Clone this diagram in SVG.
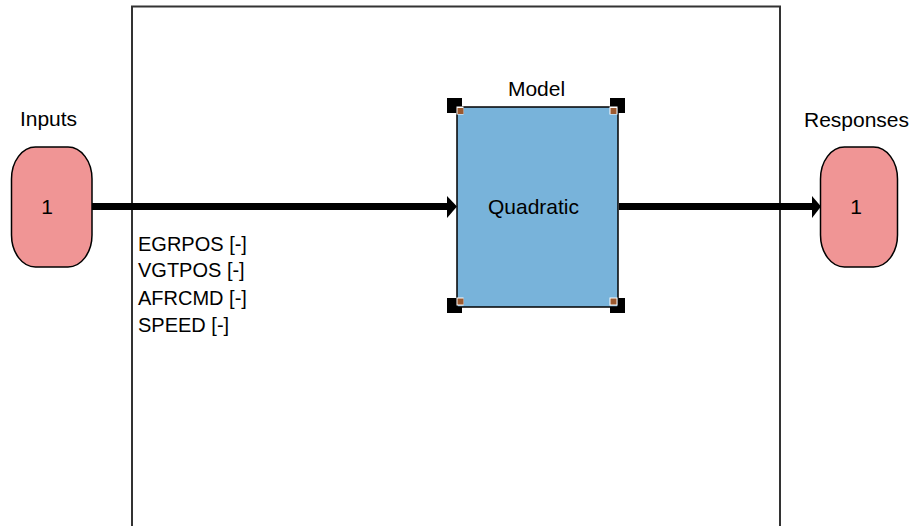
<svg xmlns="http://www.w3.org/2000/svg" width="915" height="526" viewBox="0 0 915 526">
<style>
text{font-family:"Liberation Sans",Arial,sans-serif;font-size:21px;fill:#000}
.sig{font-size:20px}
.port{fill:#F09595;stroke:#000;stroke-width:1.5}
.wire{stroke:#000;stroke-width:7;fill:none}
.ah{fill:#000}
.h{fill:#000}
.hw{fill:#fff}
.hi{fill:#9C5A30}
</style>
<rect width="915" height="526" fill="#fff"/>
<path d="M132,530 V6.5 H780 V530" fill="none" stroke="#333" stroke-width="2"/>
<g id="connectors">
<path class="wire" d="M92,206.5 H448"/>
<path class="ah" d="M447,196 L457,206.5 L447,218 z"/>
<path class="wire" d="M619,206.5 H813"/>
<path class="ah" d="M812,196 L821,206.5 L812,218 z"/>
</g>
<g id="inputs">
<rect class="port" x="11.5" y="147" width="80.5" height="120" rx="24" ry="32"/>
<text x="47" y="214" text-anchor="middle">1</text>
<text x="48.5" y="126" text-anchor="middle">Inputs</text>
</g>
<g id="model">
<rect x="447" y="98" width="15" height="15" class="h"/>
<rect x="610" y="98" width="15" height="15" class="h"/>
<rect x="447" y="298" width="15" height="15" class="h"/>
<rect x="610" y="298" width="15" height="15" class="h"/>
<rect x="457" y="107" width="161" height="200" fill="#78B3DA" stroke="#000" stroke-width="1.5"/>
<rect class="hw" x="456.5" y="106.5" width="7" height="8"/>
<rect class="hw" x="609.5" y="106.5" width="8" height="8"/>
<rect class="hw" x="456.5" y="297.5" width="7" height="8"/>
<rect class="hw" x="609.5" y="297.5" width="8" height="8"/>
<rect class="hi" x="457.5" y="108" width="6" height="6"/>
<rect class="hi" x="610.5" y="108" width="6" height="6"/>
<rect class="hi" x="457.5" y="298.5" width="6" height="6"/>
<rect class="hi" x="610.5" y="298.5" width="6" height="6"/>
<text x="533.5" y="214" text-anchor="middle">Quadratic</text>
<text x="536.5" y="96" text-anchor="middle">Model</text>
</g>
<g id="responses">
<rect class="port" x="820.5" y="147" width="77" height="120" rx="24" ry="32"/>
<text x="856" y="214" text-anchor="middle">1</text>
<text x="856.5" y="127" text-anchor="middle">Responses</text>
</g>
<g id="signals">
<text class="sig" x="138" y="251">EGRPOS [-]</text>
<text class="sig" x="138" y="277">VGTPOS [-]</text>
<text class="sig" x="138" y="305">AFRCMD [-]</text>
<text class="sig" x="138" y="332">SPEED [-]</text>
</g>
</svg>
